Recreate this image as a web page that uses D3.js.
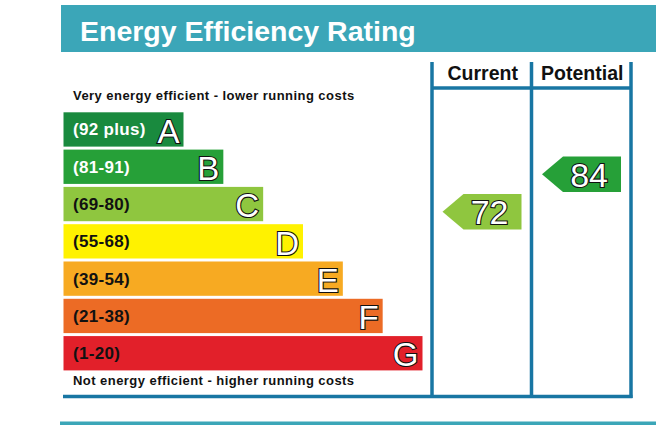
<!doctype html>
<html>
<head>
<meta charset="utf-8">
<title>Energy Efficiency Rating</title>
<script src="https://d3js.org/d3.v7.min.js"></script>
<style>
body { margin: 0; background: #fff; }
svg text { font-family: "Liberation Sans", Arial, Helvetica, sans-serif; }
</style>
</head>
<body>
<svg class="epc"></svg>
<script>
    // ratings, top (best) to bottom (worst)
    var bands = ["A", "B", "C", "D", "E", "F", "G"];
    var ranges = ["(92 plus)", "(81-91)", "(69-80)", "(55-68)", "(39-54)", "(21-38)", "(1-20)"];
    var lowerBounds = [92, 81, 69, 55, 39, 21, 1];
    var bandColors = ["#198a3e", "#26a038", "#8fc63f", "#fff200", "#f7aa22", "#ec6b25", "#e2202a"];
    var rangeTextColors = ["#fff", "#fff", "#111", "#111", "#111", "#111", "#111"];

    var columns = ["Current", "Potential"];
    var scores = [72, 84];

    var width = 656, height = 425;
    var teal = "#3ba6b8", frame = "#1876a3";

    var svg = d3.select(".epc")
        .attr("width", width)
        .attr("height", height);

    // header banner
    svg.append("rect")
        .attr("x", 61).attr("y", 5)
        .attr("width", width - 61).attr("height", 47)
        .attr("fill", teal);
    svg.append("text")
        .attr("x", 80).attr("y", 41)
        .attr("fill", "#fff")
        .style("font-size", "28.5px")
        .style("font-weight", "bold")
        .text("Energy Efficiency Rating");

    var y = d3.scaleBand()
        .domain(bands)
        .range([112.3, 370.4])
        .paddingInner(0.08);

    // bar length grows with band index
    var barEnd = d3.scaleLinear()
        .domain([0, bands.length - 1])
        .range([183.5, 422.5]);
    var barStart = 63.5;

    var col = d3.scaleBand()
        .domain(columns)
        .range([432, 631]);

    svg.append("text")
        .attr("x", 73).attr("y", 100)
        .style("font-size", "13px")
        .style("font-weight", "bold")
        .style("letter-spacing", "0.45px")
        .attr("fill", "#111")
        .text("Very energy efficient - lower running costs");

    svg.append("text")
        .attr("x", 73).attr("y", 385)
        .style("font-size", "13px")
        .style("font-weight", "bold")
        .style("letter-spacing", "0.45px")
        .attr("fill", "#111")
        .text("Not energy efficient - higher running costs");

    var bar = svg.selectAll("g.band")
        .data(bands)
        .enter()
        .append("g")
        .attr("class", "band");

    bar.append("rect")
        .attr("x", barStart)
        .attr("y", d => y(d))
        .attr("width", (d, i) => barEnd(i) - barStart)
        .attr("height", y.bandwidth())
        .attr("fill", (d, i) => bandColors[i]);

    bar.append("text")
        .attr("x", 73)
        .attr("y", d => y(d) + y.bandwidth() / 2 + 6)
        .attr("fill", (d, i) => rangeTextColors[i])
        .style("font-size", "17px")
        .style("font-weight", "bold")
        .style("letter-spacing", "0.3px")
        .text((d, i) => ranges[i]);

    bar.append("text")
        .attr("x", (d, i) => barEnd(i) - 4)
        .attr("y", d => y(d) + y.bandwidth() - 4)
        .attr("text-anchor", "end")
        .attr("fill", "#fff")
        .attr("stroke", "#111")
        .attr("stroke-width", 2.2)
        .attr("paint-order", "stroke")
        .style("font-size", "33px")
        .text(d => d);

    // frame
    var lineTop = 62, lineBottom = 396.5, headerLine = 88;
    svg.append("line")
        .attr("x1", 63).attr("x2", col.range()[1] + 1.5)
        .attr("y1", lineBottom).attr("y2", lineBottom)
        .attr("stroke", frame).attr("stroke-width", 3.5);
    svg.append("line")
        .attr("x1", col.range()[0]).attr("x2", col.range()[1])
        .attr("y1", headerLine).attr("y2", headerLine)
        .attr("stroke", frame).attr("stroke-width", 3.5);
    svg.selectAll("line.vert")
        .data(columns.concat(["end"]))
        .enter()
        .append("line")
        .attr("class", "vert")
        .attr("x1", (d, i) => col.range()[0] + i * col.bandwidth())
        .attr("x2", (d, i) => col.range()[0] + i * col.bandwidth())
        .attr("y1", lineTop).attr("y2", lineBottom + 1.5)
        .attr("stroke", frame).attr("stroke-width", 3.5);

    svg.selectAll("text.colhead")
        .data(columns)
        .enter()
        .append("text")
        .attr("class", "colhead")
        .attr("x", d => col(d) + col.bandwidth() / 2 + 1)
        .attr("y", 79.5)
        .attr("text-anchor", "middle")
        .attr("fill", "#111")
        .style("font-size", "19.5px")
        .style("font-weight", "bold")
        .text(d => d);

    // score arrows
    function bandIndex(v) {
        return lowerBounds.findIndex(b => v >= b);
    }
    var arrowH = 35.5, tipW = 21;
    var arrows = svg.selectAll("g.arrow")
        .data(scores)
        .enter()
        .append("g")
        .attr("class", "arrow");

    arrows.append("path")
        .attr("d", (v, i) => {
            var x0 = col(columns[i]) + 10.5,
                x1 = col(columns[i]) + col.bandwidth() - 10,
                top = y(bands[bandIndex(v)]) + 7;
            return `M${x0},${top + arrowH / 2} L${x0 + tipW},${top} L${x1},${top} L${x1},${top + arrowH} L${x0 + tipW},${top + arrowH} Z`;
        })
        .attr("fill", v => bandColors[bandIndex(v)]);

    arrows.append("text")
        .attr("x", (v, i) => col(columns[i]) + col.bandwidth() - 23)
        .attr("y", v => y(bands[bandIndex(v)]) + 7 + arrowH - 5)
        .attr("text-anchor", "end")
        .attr("fill", "#fff")
        .attr("stroke", "#111")
        .attr("stroke-width", 2.2)
        .attr("paint-order", "stroke")
        .style("font-size", "34px")
        .text(v => v);

    // bottom rule
    svg.append("rect")
        .attr("x", 60).attr("y", 421.5)
        .attr("width", width - 60).attr("height", 10)
        .attr("fill", teal);
</script>
</body>
</html>
